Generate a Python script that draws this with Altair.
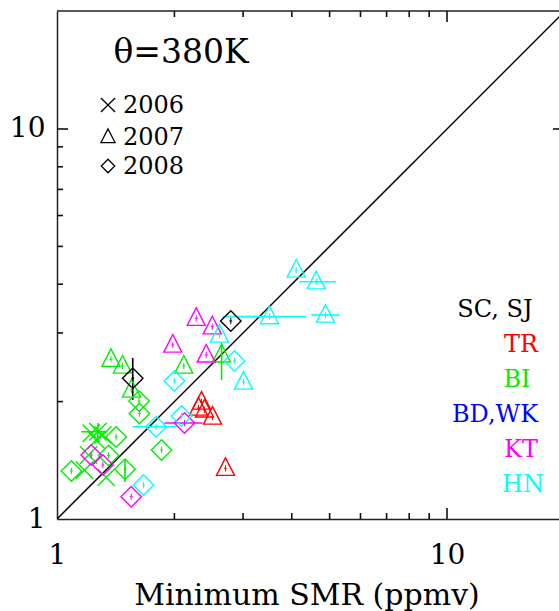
import altair as alt
import pandas as pd

# ---------------- data ----------------
# each series: region, year, minimum SMR (x), other SMR (y)
bi06_x = [1.224, 1.273, 1.311, 1.260, 1.205, 1.176, 1.337]
bi06_y = [1.659, 1.674, 1.642, 1.594, 1.459, 1.335, 1.279]

bi07_x = [1.375, 1.472, 1.552, 2.114, 2.642]
bi07_y = [2.568, 2.468, 2.142, 2.468, 2.634]

bi08_x = [1.623, 1.627, 1.418, 1.356, 1.089, 1.494, 1.854]
bi08_y = [2.007, 1.864, 1.623, 1.455, 1.328, 1.341, 1.503]

sc08_x = [1.564, 2.790]
sc08_y = [2.295, 3.219]

tr07_x = [2.347, 2.306, 2.388, 2.505, 2.704]
tr07_y = [1.995, 1.926, 1.904, 1.826, 1.349]

kt07_x = [2.275, 2.501, 1.981, 2.413]
kt07_y = [3.271, 3.112, 2.794, 2.634]

kt08_x = [2.123, 1.224, 1.311, 1.550]
kt08_y = [1.762, 1.459, 1.375, 1.141]

hn07_x = [4.105, 4.620, 3.507, 4.881, 2.610, 3.008]
hn07_y = [4.350, 4.059, 3.302, 3.335, 2.964, 2.245]

hn08_x = [2.000, 2.086, 1.796, 2.852, 1.667]
hn08_y = [2.259, 1.837, 1.724, 2.542, 1.222]

series = [
    ("BI", "2006", bi06_x, bi06_y),
    ("BI", "2007", bi07_x, bi07_y),
    ("BI", "2008", bi08_x, bi08_y),
    ("SC, SJ", "2008", sc08_x, sc08_y),
    ("TR", "2007", tr07_x, tr07_y),
    ("KT", "2007", kt07_x, kt07_y),
    ("KT", "2008", kt08_x, kt08_y),
    ("HN", "2007", hn07_x, hn07_y),
    ("HN", "2008", hn08_x, hn08_y),
]

# vertical error bars
vbar_region = ["BI", "SC, SJ", "BI", "BI"]
vbar_x = [2.642, 1.564, 1.494, 1.273]
vbar_lo = [2.272, 2.019, 1.244, 1.566]
vbar_hi = [2.827, 2.588, 1.416, 1.763]

# horizontal error bars
hbar_region = ["KT", "HN", "HN", "HN", "HN", "BI"]
hbar_y = [1.762, 4.059, 3.302, 3.335, 1.724, 1.674]
hbar_lo = [1.886, 4.187, 2.658, 4.485, 1.562, 1.154]
hbar_hi = [2.361, 5.197, 4.355, 5.302, 2.025, 1.346]

regions = ["SC, SJ", "TR", "BI", "BD,WK", "KT", "HN"]
region_colors = ["#000000", "#ff0000", "#00ee00", "#0000ff", "#ff00ff", "#00ffff"]
years = ["2006", "2007", "2008"]

diag_v = [1, 20]
minor_ticks = [2, 3, 4, 5, 6, 7, 8, 9]
major_ticks = [10]
axis_labels = [1, 10]

# ---------------- build tables ----------------
rows = []
for reg, yr, xs_, ys_ in series:
    for a, b in zip(xs_, ys_):
        rows.append({"region": reg, "year": yr, "x": a, "y": b})
pts = pd.DataFrame(rows)
vb = pd.DataFrame({"region": vbar_region, "x": vbar_x, "lo": vbar_lo, "hi": vbar_hi})
hb = pd.DataFrame({"region": hbar_region, "y": hbar_y, "lo": hbar_lo, "hi": hbar_hi})
diag = pd.DataFrame({"x": diag_v, "y": diag_v})
minor = pd.DataFrame({"t": minor_ticks})
major = pd.DataFrame({"t": major_ticks})

W, H = 502, 508
FONT = "DejaVu Serif"
xscale = alt.Scale(type="log", domain=[1, 19.37], nice=False)
yscale = alt.Scale(type="log", domain=[1, 20.07], nice=False)
cscale = alt.Scale(domain=regions, range=region_colors)

X_PATH = "M-1,-1L1,1M-1,1L1,-1"
TRI_PATH = "M0,-1.1L-0.95,0.75L0.95,0.75Z"
DIA_PATH = "M0,-1L1,0L0,1L-1,0Z"
PLUS_PATH = "M0,-1.3L0,1.3M-0.6,0L0.6,0"
shape_scale = alt.Scale(domain=years, range=[X_PATH, TRI_PATH, DIA_PATH])
size_scale = alt.Scale(domain=years, range=[300, 420, 420])

x_axis = alt.Axis(values=axis_labels, format="d", title=None, grid=False, ticks=False,
                  tickSize=0, labelFont=FONT, labelFontSize=28, labelColor="black",
                  labelPadding=36, labelBaseline="middle", labelFlush=False,
                  labelOverlap=False, domainColor="#222222", domainWidth=1.5)
y_axis = alt.Axis(values=axis_labels, format="d", title=None, grid=False, ticks=False,
                  tickSize=0, labelFont=FONT, labelFontSize=28, labelColor="black",
                  labelPadding=12, labelBaseline="middle", labelFlush=False,
                  labelOverlap=False, domainColor="#222222", domainWidth=1.5)


def X(field):
    return alt.X(field, scale=xscale, axis=x_axis)


def Y(field):
    return alt.Y(field, scale=yscale, axis=y_axis)


diag_layer = alt.Chart(diag).mark_line(color="black", strokeWidth=1.5, clip=True).encode(
    x=X("x:Q"), y=Y("y:Q"))

hbar_layer = alt.Chart(hb).mark_rule(strokeWidth=1.6).encode(
    x=X("lo:Q"), x2="hi:Q", y=Y("y:Q"),
    color=alt.Color("region:N", scale=cscale, legend=None))

vbar_layer = alt.Chart(vb).mark_rule(strokeWidth=1.6).encode(
    x=X("x:Q"), y=Y("lo:Q"), y2="hi:Q",
    color=alt.Color("region:N", scale=cscale, legend=None))

pt_layer = alt.Chart(pts).mark_point(filled=False, strokeWidth=1.4, opacity=1).encode(
    x=X("x:Q"), y=Y("y:Q"),
    shape=alt.Shape("year:N", scale=shape_scale, legend=None),
    size=alt.Size("year:N", scale=size_scale, legend=None),
    color=alt.Color("region:N", scale=cscale, legend=None))

inner_layer = alt.Chart(pts[pts.year != "2006"]).mark_point(
    filled=False, strokeWidth=1, shape=PLUS_PATH, size=24, opacity=1).encode(
    x=X("x:Q"), y=Y("y:Q"),
    color=alt.Color("region:N", scale=cscale, legend=None))

TICK_COLOR = "#111111"
tick_style = dict(color=TICK_COLOR, strokeWidth=1.6)
tx_minor_b = alt.Chart(minor).mark_rule(**tick_style).encode(
    x=X("t:Q"), y=alt.value(H), y2=alt.value(H - 6))
tx_minor_t = alt.Chart(minor).mark_rule(**tick_style).encode(
    x=X("t:Q"), y=alt.value(0), y2=alt.value(6))
tx_major_b = alt.Chart(major).mark_rule(**tick_style).encode(
    x=X("t:Q"), y=alt.value(H), y2=alt.value(H - 11))
tx_major_t = alt.Chart(major).mark_rule(**tick_style).encode(
    x=X("t:Q"), y=alt.value(0), y2=alt.value(11))
ty_minor_l = alt.Chart(minor).mark_rule(**tick_style).encode(
    y=Y("t:Q"), x=alt.value(0), x2=alt.value(6))
ty_major_l = alt.Chart(major).mark_rule(**tick_style).encode(
    y=Y("t:Q"), x=alt.value(0), x2=alt.value(11))
ty_major_r = alt.Chart(major).mark_rule(**tick_style).encode(
    y=Y("t:Q"), x=alt.value(496), x2=alt.value(508))
top_spine = alt.Chart(major).mark_rule(color="#222222", strokeWidth=1.5).encode(
    x=alt.value(0), x2=alt.value(W), y=alt.value(0))

one = pd.DataFrame({"a": [0]})


def label(text, x, y, size, color="black", align="center", baseline="middle"):
    return alt.Chart(one).mark_text(text=text, font=FONT, fontSize=size, color=color,
                                    align=align, baseline=baseline).encode(
        x=alt.value(x), y=alt.value(y))


def sym(shape, x, y, size):
    return alt.Chart(one).mark_point(shape=shape, size=size, filled=False, color="black",
                                     strokeWidth=1.3, opacity=1).encode(
        x=alt.value(x), y=alt.value(y))


annos = [
    label("θ=380K", 124, 42, 33),
    sym(X_PATH, 51, 94, 200), label("2006", 66, 95, 24, align="left"),
    sym(TRI_PATH, 51, 126, 220), label("2007", 66, 127, 24, align="left"),
    sym(DIA_PATH, 51, 155, 180), label("2008", 66, 156, 24, align="left"),
    label("SC, SJ", 438, 299, 24, color="#000000"),
    label("TR", 464, 334, 24, color="#ff0000"),
    label("BI", 460, 369, 24, color="#00ee00"),
    label("BD,WK", 438, 404, 24, color="#0000ff"),
    label("KT", 464, 439, 24, color="#ff00ff"),
    label("HN", 466, 474, 24, color="#00ffff"),
    label("Minimum SMR (ppmv)", 250, 594, 30, baseline="alphabetic"),
]

chart = alt.layer(
    diag_layer, hbar_layer, vbar_layer, pt_layer, inner_layer,
    tx_minor_b, tx_minor_t, tx_major_b, tx_major_t, ty_minor_l, ty_major_l, ty_major_r,
    top_spine, *annos
).properties(
    width=W, height=H, autosize="none",
    padding={"left": 57, "top": 11, "right": 0, "bottom": 92},
    background="white",
).configure_view(stroke=None)

chart.save("out.html", embed_options={"renderer": "svg", "actions": False})
